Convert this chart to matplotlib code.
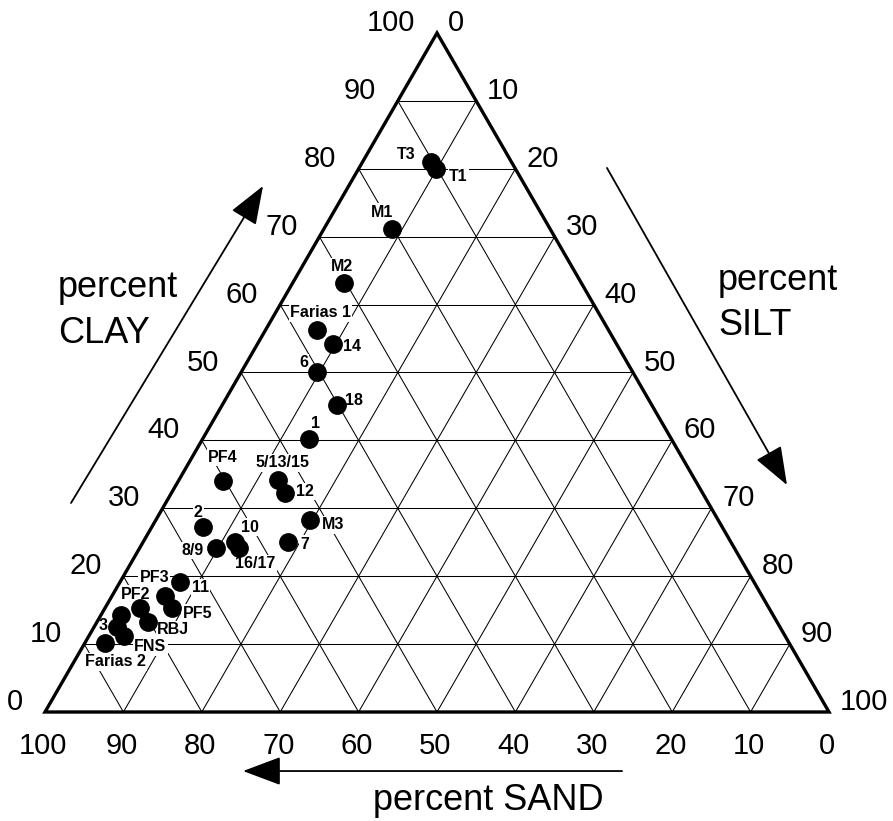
import numpy as np
import matplotlib
matplotlib.use('Agg')
import matplotlib.pyplot as plt
from matplotlib.patches import Polygon

plt.rcParams['font.family'] = ['Liberation Sans', 'DejaVu Sans']

# sample composition (percent)
names = ['T3', 'T1', 'M1', 'M2', 'Farias 1', '14', '6', '18', '1',
         'PF4', '5/13/15', '12', 'M3', '2', '10', '16/17', '8/9', '7',
         'PF3', '11', 'PF5', 'PF2', 'RBJ', '', '3', 'FNS', 'Farias 2']
clay = [81.0, 80.0, 71.1, 63.2, 56.3, 54.2, 50.1, 45.2, 40.2,
        34.0, 34.2, 32.3, 28.3, 27.2, 25.0, 24.2, 24.2, 25.0,
        19.1, 17.1, 15.3, 15.3, 13.3, 14.3, 12.5, 11.2, 10.2]
silt = [8.7, 9.9, 8.7, 6.5, 6.6, 9.6, 9.7, 14.6, 13.6,
        5.7, 12.6, 14.5, 19.6, 6.6, 11.7, 12.6, 9.7, 18.5,
        7.7, 6.8, 8.6, 4.5, 6.5, 2.6, 2.9, 4.5, 2.6]

# label placement relative to the dot, in pixels (x right, y down)
label_off = [(-25, -8), (22, 8), (-10, -17), (-2, -16), (3, -17), (19, 3), (-14, -9), (17, -5), (6, -16),
             (0, -24), (5, -17), (20, -1), (23, 5), (-5, -15), (15, -15), (17, 16), (-23, 3), (17, 2),
             (-26, -5), (35, -8), (25, 5), (-5, -14), (25, 8), (0, 0), (-14, -2), (26, 11), (10, 19)]

ticks = list(range(0, 101, 10))

H = np.sqrt(3) / 2


def tern(c, s):
    c = np.asarray(c, dtype=float)
    s = np.asarray(s, dtype=float)
    return s / 100 + c / 200, c / 100 * H


fig = plt.figure(figsize=(8.93, 8.21), dpi=100)
ax = fig.add_axes([45 / 893, 109 / 821, 784 / 893, 679 / 821])
ax.set_xlim(0, 1)
ax.set_ylim(0, H)
ax.axis('off')

# grid
for v in ticks[1:-1]:
    for (c0, s0), (c1, s1) in [((v, 0), (v, 100 - v)),
                               ((0, v), (100 - v, v)),
                               ((0, 100 - v), (100 - v, 0))]:
        x, y = tern([c0, c1], [s0, s1])
        ax.plot(x, y, color='black', lw=0.75, zorder=1)

# outline
tri = Polygon([tern(0, 0), tern(0, 100), tern(100, 0)], closed=True, fill=False,
              edgecolor='black', lw=2.4, joinstyle='miter', zorder=5, clip_on=False)
ax.add_patch(tri)

pt = 0.72  # points per pixel
tick_fs = 21

for v in ticks:
    # clay, left side
    ax.annotate(str(v), tern(v, 0), xytext=(-22 * pt, 10 * pt), textcoords='offset points',
                ha='right', va='center', fontsize=tick_fs, annotation_clip=False)
    # silt, right side
    ax.annotate(str(v), tern(100 - v, v), xytext=(11 * pt, 10 * pt), textcoords='offset points',
                ha='left', va='center', fontsize=tick_fs, annotation_clip=False)
    # sand, bottom
    ax.annotate(str(v), tern(0, 100 - v), xytext=(-2 * pt, -34 * pt), textcoords='offset points',
                ha='center', va='center', fontsize=tick_fs, annotation_clip=False)

# samples
px, py = tern(clay, silt)
ax.plot(px, py, 'o', color='black', ms=12.5, zorder=4, clip_on=False)
for name, x, y, (dx, dy) in zip(names, px, py, label_off):
    if not name:
        continue
    ax.annotate(name, (x, y), xytext=(dx * pt, -dy * pt), textcoords='offset points',
                ha='center', va='center', fontsize=11.5, fontweight='bold', zorder=3,
                bbox=dict(boxstyle='square,pad=0.08', facecolor='white', edgecolor='none'))

# axis arrows and titles
arrow = dict(arrowstyle='-|>,head_length=1.6,head_width=0.6', mutation_scale=15,
             color='black', lw=1.3, shrinkA=0, shrinkB=0)
ax.annotate('', xy=(0.2781, 0.6709), xytext=(0.0332, 0.2666), arrowprops=arrow, annotation_clip=False)
ax.annotate('', xy=(0.9464, 0.2895), xytext=(0.7168, 0.6939), arrowprops=arrow, annotation_clip=False)
ax.annotate('', xy=(0.2526, -0.0753), xytext=(0.7360, -0.0753), arrowprops=arrow, annotation_clip=False)

title_fs = 26
ax.text(0.0166, 0.529, 'percent', fontsize=title_fs, ha='left', va='baseline', clip_on=False)
ax.text(0.0166, 0.4707, 'CLAY', fontsize=title_fs, ha='left', va='baseline', clip_on=False)
ax.text(0.8584, 0.5383, 'percent', fontsize=title_fs, ha='left', va='baseline', clip_on=False)
ax.text(0.8584, 0.4809, 'SILT', fontsize=title_fs, ha='left', va='baseline', clip_on=False)
ax.text(0.565, -0.125, 'percent SAND', fontsize=title_fs, ha='center', va='baseline', clip_on=False)

fig.savefig('out.png', dpi=100, facecolor='white')
